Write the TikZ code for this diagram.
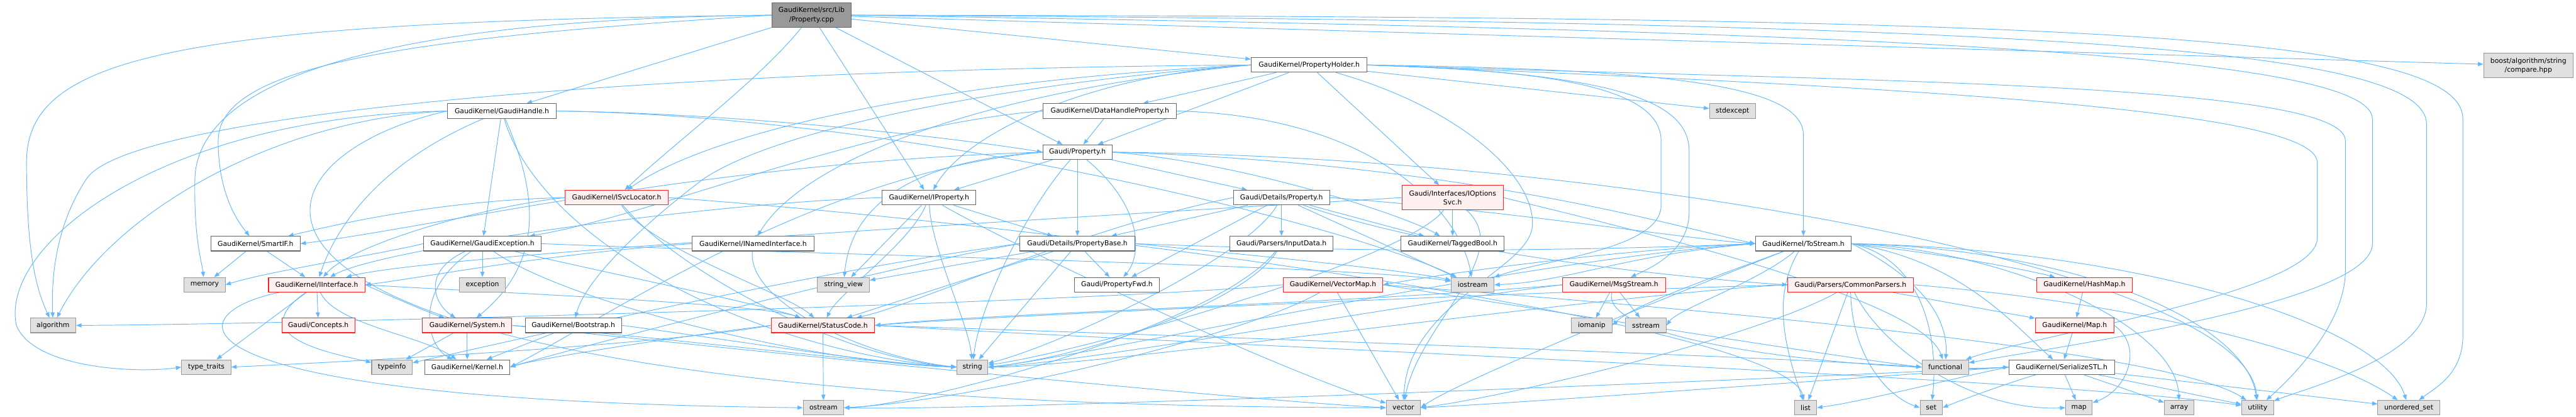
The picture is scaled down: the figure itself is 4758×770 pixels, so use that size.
\documentclass[tikz,border=0pt]{standalone}
\usepackage{fontspec}
\setsansfont{DejaVu Sans}
\usepackage{tikz}
\usetikzlibrary{arrows.meta, backgrounds}
\usepackage{xcolor}
\definecolor{edgeblue}{HTML}{63B8FF}
\definecolor{boxline}{HTML}{666666}
\definecolor{sysfill}{HTML}{E0E0E0}
\definecolor{sysline}{HTML}{999999}
\definecolor{truncfill}{HTML}{FFF0F0}
\definecolor{truncline}{HTML}{FF2020}
\definecolor{rootfill}{HTML}{999999}
\tikzstyle{hdr} = [rectangle, draw=boxline, fill=white, line width=1.2pt, minimum height=27pt,
    inner sep=0pt, align=center, text=black, font=\sffamily\fontsize{12.6}{16.5}\selectfont]
\tikzstyle{sys} = [hdr, draw=sysline, fill=sysfill]
\tikzstyle{trunc} = [hdr, draw=truncline, fill=truncfill]
\tikzstyle{root} = [hdr, draw=boxline, fill=rootfill, minimum height=45pt]
\tikzstyle{dep} = [draw=edgeblue, line width=1.1pt, -{Triangle[length=10pt,width=7.5pt]}]

\begin{document}
\begin{tikzpicture}[x=1pt, y=-1pt]
\useasboundingbox (0,0) rectangle (4758,770);
\node (cpp) [root, minimum width=146pt] at (1499,28) {GaudiKernel/src/Lib\\/Property.cpp};
\node (holder) [hdr, minimum width=214pt] at (2418,120) {GaudiKernel/PropertyHolder.h};
\node (boost) [sys, minimum width=165pt, minimum height=45pt] at (4670,121) {boost/algorithm/string\\/compare.hpp};
\node (handle) [hdr, minimum width=200pt] at (927,205) {GaudiKernel/GaudiHandle.h};
\node (dhprop) [hdr, minimum width=246pt] at (2050,205) {GaudiKernel/DataHandleProperty.h};
\node (stdexcept) [sys, minimum width=85pt] at (3200,205) {stdexcept};
\node (prop) [hdr, minimum width=128pt] at (1990,281) {Gaudi/Property.h};
\node (svcloc) [trunc, minimum width=190pt] at (1139,365) {GaudiKernel/ISvcLocator.h};
\node (iprop) [hdr, minimum width=173pt] at (1716,365) {GaudiKernel/IProperty.h};
\node (dprop) [hdr, minimum width=178pt] at (2367,365) {Gaudi/Details/Property.h};
\node (optsvc) [trunc, minimum width=187pt, minimum height=45pt] at (2683,365) {Gaudi/Interfaces/IOptions\\Svc.h};
\node (smartif) [hdr, minimum width=165pt] at (472,450) {GaudiKernel/SmartIF.h};
\node (gexc) [hdr, minimum width=217pt] at (891,450) {GaudiKernel/GaudiException.h};
\node (inamed) [hdr, minimum width=225pt] at (1391,450) {GaudiKernel/INamedInterface.h};
\node (pbase) [hdr, minimum width=212pt] at (1990,450) {Gaudi/Details/PropertyBase.h};
\node (input) [hdr, minimum width=190pt] at (2367,450) {Gaudi/Parsers/InputData.h};
\node (tagged) [hdr, minimum width=191pt] at (2683,450) {GaudiKernel/TaggedBool.h};
\node (tostream) [hdr, minimum width=177pt] at (3331,450) {GaudiKernel/ToStream.h};
\node (memory) [sys, minimum width=76pt] at (378,526) {memory};
\node (iface) [trunc, minimum width=178pt] at (585,526) {GaudiKernel/IInterface.h};
\node (exception) [sys, minimum width=85pt] at (891,526) {exception};
\node (strview) [sys, minimum width=96pt] at (1558,526) {string\_view};
\node (pfwd) [hdr, minimum width=156pt] at (2063,526) {Gaudi/PropertyFwd.h};
\node (vecmap) [trunc, minimum width=184pt] at (2462,526) {GaudiKernel/VectorMap.h};
\node (iostream) [sys, minimum width=79pt] at (2720,526) {iostream};
\node (msgstream) [trunc, minimum width=190pt] at (2981,526) {GaudiKernel/MsgStream.h};
\node (parsers) [trunc, minimum width=232pt] at (3418,526) {Gaudi/Parsers/CommonParsers.h};
\node (hashmap) [trunc, minimum width=177pt] at (3850,526) {GaudiKernel/HashMap.h};
\node (algorithm) [sys, minimum width=84pt] at (98,601) {algorithm};
\node (concepts) [trunc, minimum width=135pt] at (588,601) {Gaudi/Concepts.h};
\node (system) [trunc, minimum width=165pt] at (863,601) {GaudiKernel/System.h};
\node (bootstrap) [hdr, minimum width=178pt] at (1059,601) {GaudiKernel/Bootstrap.h};
\node (status) [trunc, minimum width=191pt] at (1520,601) {GaudiKernel/StatusCode.h};
\node (iomanip) [sys, minimum width=75pt] at (2940,601) {iomanip};
\node (sstream) [sys, minimum width=75pt] at (3040,601) {sstream};
\node (gmap) [trunc, minimum width=145pt] at (3832,601) {GaudiKernel/Map.h};
\node (typetraits) [sys, minimum width=91pt] at (381,678) {type\_traits};
\node (typeinfo) [sys, minimum width=75pt] at (724,678) {typeinfo};
\node (kernel) [hdr, minimum width=157pt] at (863,678) {GaudiKernel/Kernel.h};
\node (string) [sys, minimum width=57pt] at (1796,678) {string};
\node (functional) [sys, minimum width=86pt] at (3593,678) {functional};
\node (serial) [hdr, minimum width=195pt] at (3808,678) {GaudiKernel/SerializeSTL.h};
\node (ostream) [sys, minimum width=75pt] at (1521,753) {ostream};
\node (vector) [sys, minimum width=63pt] at (2592,753) {vector};
\node (list) [sys, minimum width=41pt] at (3335,753) {list};
\node (set) [sys, minimum width=41pt] at (3567,753) {set};
\node (map) [sys, minimum width=49pt] at (3840,753) {map};
\node (array) [sys, minimum width=55pt] at (4025,753) {array};
\node (utility) [sys, minimum width=59pt] at (4170,753) {utility};
\node (uset) [sys, minimum width=114pt] at (4449,753) {unordered\_set};

\begin{pgfonlayer}{background}
\draw[dep] (cpp) -- (handle);
\draw[dep] (cpp) -- (iprop);
\draw[dep] (cpp) -- (prop);
\draw[dep] (cpp) -- (holder);
\draw[dep] (cpp) .. controls (1400,150) and (1250,260) .. (svcloc);
\draw[dep] (cpp.west) .. controls (300,40) and (49,110) .. (49,300) .. controls (49,480) and (70,540) .. (algorithm);
\draw[dep] (cpp.west) .. controls (700,35) and (365,150) .. (360,330) .. controls (358,440) and (372,480) .. (memory);
\draw[dep] (cpp.west) .. controls (750,70) and (403,120) .. (403,260) .. controls (403,360) and (440,410) .. (smartif);
\draw[dep] (cpp) -- (boost);
\draw[dep] (cpp.east) .. controls (3800,30) and (4549,60) .. (4549,220) -- (4549,620) .. controls (4549,690) and (4500,715) .. (uset);
\draw[dep] (cpp.east) .. controls (3800,40) and (4482,90) .. (4482,230) -- (4482,560) .. controls (4482,660) and (4250,720) .. (utility);
\draw[dep] (cpp.east) .. controls (3300,55) and (4382,90) .. (4382,220) -- (4382,450) .. controls (4382,560) and (3800,640) .. (functional);

\draw[dep] (holder.west) .. controls (1200,128) and (240,210) .. (160,330) .. controls (100,420) and (95,520) .. (algorithm);
\draw[dep] (holder.west) .. controls (1700,150) and (1300,250) .. (svcloc);
\draw[dep] (holder.west) .. controls (1900,150) and (1450,230) .. (1300,330) .. controls (1180,420) and (1080,520) .. (bootstrap);
\draw[dep] (holder.west) .. controls (1800,170) and (1480,300) .. (inamed);
\draw[dep] (holder.west) .. controls (2000,140) and (1780,250) .. (iprop);
\draw[dep] (holder) -- (dhprop);
\draw[dep] (holder) -- (prop);
\draw[dep] (holder) -- (optsvc);
\draw[dep] (holder) .. controls (2700,200) and (2840,330) .. (2830,420) .. controls (2820,500) and (2600,560) .. (vector);
\draw[dep] (holder.east) .. controls (2900,130) and (3068,170) .. (3068,260) -- (3068,380) .. controls (3068,460) and (2850,480) .. (iostream);
\draw[dep] (holder.east) .. controls (3000,135) and (3120,190) .. (3120,280) -- (3120,390) .. controls (3120,460) and (3060,490) .. (msgstream);
\draw[dep] (holder) -- (stdexcept);
\draw[dep] (holder.east) .. controls (3100,128) and (3331,160) .. (3331,250) -- (tostream);
\draw[dep] (holder.east) .. controls (3500,160) and (4280,200) .. (4280,300) -- (4280,440) .. controls (4280,540) and (3750,620) .. (functional);
\draw[dep] (holder.east) .. controls (3400,150) and (4332,150) .. (4332,260) -- (4332,500) .. controls (4332,600) and (4230,700) .. (utility);

\draw[dep] (dhprop) -- (prop);
\draw[dep] (dhprop.east) .. controls (2550,215) and (2700,400) .. (iostream);
\draw[dep] (dhprop.west) .. controls (1600,230) and (1200,400) .. (gexc);

\draw[dep] (prop) -- (dprop);
\draw[dep] (prop) -- (pbase);
\draw[dep] (prop) .. controls (2110,380) and (2110,470) .. (pfwd);
\draw[dep] (prop) -- (iprop);
\draw[dep] (prop) .. controls (1900,380) and (1810,560) .. (string);
\draw[dep] (prop.west) .. controls (1650,300) and (1570,400) .. (strview);
\draw[dep] (prop.west) .. controls (1300,300) and (800,420) .. (smartif.east);
\draw[dep] (prop.west) .. controls (1500,320) and (1100,600) .. (kernel.east);
\draw[dep] (prop.east) .. controls (2300,300) and (2600,400) .. (tagged);
\draw[dep] (prop.east) .. controls (2700,300) and (3100,420) .. (tostream.west);
\draw[dep] (prop.east) .. controls (3000,290) and (4150,500) .. (utility);

\draw[dep] (svcloc.west) .. controls (900,380) and (650,450) .. (iface);
\draw[dep] (svcloc.west) .. controls (800,370) and (600,420) .. (smartif);
\draw[dep] (svcloc) .. controls (1200,460) and (1450,540) .. (status);
\draw[dep] (svcloc) .. controls (1250,500) and (1550,660) .. (string.west);
\draw[dep] (svcloc.east) .. controls (2000,420) and (3300,600) .. (list);

\draw[dep] (iprop.west) .. controls (1300,375) and (700,460) .. (iface);
\draw[dep] (iprop) .. controls (1680,450) and (1550,540) .. (status);
\draw[dep] (iprop) -- (pbase);
\draw[dep] (iprop) .. controls (1720,460) and (1790,600) .. (string);
\draw[dep] (iprop) -- (strview);
\draw[dep] (iprop) .. controls (1900,470) and (2400,700) .. (vector);

\draw[dep] (dprop) -- (pbase);
\draw[dep] (dprop) -- (pfwd);
\draw[dep] (dprop) -- (input);
\draw[dep] (dprop) .. controls (2300,480) and (1950,640) .. (string);
\draw[dep] (dprop) -- (tagged);
\draw[dep] (dprop) -- (iostream);
\draw[dep] (dprop.east) .. controls (2800,390) and (3100,440) .. (tostream.west);
\draw[dep] (dprop) .. controls (2700,480) and (3200,520) .. (parsers.west);
\draw[dep] (dprop.west) .. controls (2000,420) and (1700,560) .. (status);

\draw[dep] (optsvc) -- (tagged);
\draw[dep] (optsvc.west) .. controls (2000,400) and (800,470) .. (iface);
\draw[dep] (optsvc) .. controls (2600,480) and (2000,650) .. (string);
\draw[dep] (optsvc) .. controls (2800,470) and (2620,600) .. (vector);
\draw[dep] (optsvc.east) .. controls (3000,420) and (3550,550) .. (functional);

\draw[dep] (smartif) -- (memory);
\draw[dep] (smartif) -- (iface);

\draw[dep] (gexc) -- (exception);
\draw[dep] (gexc) .. controls (1100,500) and (1400,560) .. (status);
\draw[dep] (gexc) .. controls (760,540) and (790,640) .. (kernel);
\draw[dep] (gexc) .. controls (780,500) and (800,560) .. (system);
\draw[dep] (gexc.east) .. controls (1500,470) and (2500,490) .. (iostream);
\draw[dep] (gexc) .. controls (1050,560) and (1500,670) .. (string.west);
\draw[dep] (gexc.west) .. controls (700,470) and (500,500) .. (memory.east);

\draw[dep] (inamed.west) .. controls (1000,470) and (800,510) .. (iface.east);
\draw[dep] (inamed) .. controls (1380,560) and (1600,660) .. (string.west);

\draw[dep] (pbase) -- (pfwd);
\draw[dep] (pbase) -- (string);
\draw[dep] (pbase) -- (strview);
\draw[dep] (pbase) -- (status);
\draw[dep] (pbase.east) .. controls (2600,470) and (3000,460) .. (tostream.west);
\draw[dep] (pbase.west) .. controls (1500,500) and (900,640) .. (typeinfo);
\draw[dep] (pbase.west) .. controls (1600,500) and (1000,660) .. (kernel.east);
\draw[dep] (pbase.east) .. controls (2400,480) and (2600,500) .. (iostream);

\draw[dep] (input) .. controls (2300,560) and (2000,660) .. (string.east);
\draw[dep] (input) .. controls (2250,600) and (1700,750) .. (ostream.east);

\draw[dep] (tostream.east) .. controls (3600,470) and (3750,500) .. (hashmap);
\draw[dep] (tostream.east) .. controls (3620,480) and (3720,600) .. (serial);
\draw[dep] (tostream.west) .. controls (3000,460) and (2700,500) .. (vecmap.east);
\draw[dep] (tostream) .. controls (3200,500) and (3020,560) .. (iomanip.east);
\draw[dep] (tostream) .. controls (3250,520) and (3100,570) .. (sstream.east);
\draw[dep] (tostream.west) .. controls (3000,470) and (2900,520) .. (iostream.east);
\draw[dep] (tostream) .. controls (3270,550) and (3300,650) .. (list);
\draw[dep] (tostream.east) .. controls (3560,480) and (3580,640) .. (set);
\draw[dep] (tostream.east) .. controls (3700,460) and (4020,600) .. (array);
\draw[dep] (tostream.west) .. controls (2800,480) and (2000,660) .. (string.east);
\draw[dep] (tostream) .. controls (3100,540) and (2700,700) .. (vector.east);
\draw[dep] (tostream.east) .. controls (3850,460) and (4150,600) .. (utility);
\draw[dep] (tostream.east) .. controls (3950,460) and (4400,600) .. (uset);
\draw[dep] (tostream.east) .. controls (3500,490) and (3600,560) .. (functional);

\draw[dep] (parsers) -- (list);
\draw[dep] (parsers) .. controls (3420,650) and (3480,730) .. (set.west);
\draw[dep] (parsers) .. controls (3480,650) and (3650,760) .. (map.west);
\draw[dep] (parsers) -- (gmap);
\draw[dep] (parsers.west) .. controls (3000,540) and (2000,680) .. (string.east);
\draw[dep] (parsers) .. controls (3250,620) and (2800,730) .. (vector.east);
\draw[dep] (parsers.west) .. controls (2800,540) and (1800,585) .. (status.east);
\draw[dep] (parsers.east) .. controls (3950,560) and (4300,650) .. (uset);

\draw[dep] (hashmap) -- (gmap);
\draw[dep] (gmap) -- (serial);
\draw[dep] (gmap.east) .. controls (3960,640) and (3930,720) .. (map);

\draw[dep] (serial.west) .. controls (3600,700) and (3450,740) .. (list.east);
\draw[dep] (serial) .. controls (3700,710) and (3620,740) .. (set.east);
\draw[dep] (serial) -- (map);
\draw[dep] (serial) -- (array);
\draw[dep] (serial) -- (utility);
\draw[dep] (serial) -- (uset);
\draw[dep] (serial.west) .. controls (3400,700) and (2800,745) .. (vector.east);
\draw[dep] (serial.west) .. controls (3300,700) and (1800,760) .. (ostream.east);

\draw[dep] (vecmap) -- (vector);
\draw[dep] (vecmap.west) .. controls (2000,560) and (500,600) .. (algorithm.east);
\draw[dep] (vecmap.east) .. controls (2900,580) and (3400,660) .. (functional.west);
\draw[dep] (vecmap.east) .. controls (3000,560) and (4000,640) .. (utility);
\draw[dep] (vecmap) .. controls (2300,620) and (1800,740) .. (ostream.east);

\draw[dep] (msgstream) -- (iomanip);
\draw[dep] (msgstream) -- (sstream);
\draw[dep] (msgstream.west) .. controls (2600,560) and (2000,670) .. (string.east);
\draw[dep] (msgstream) .. controls (2950,640) and (3500,690) .. (serial.west);
\draw[dep] (msgstream.west) .. controls (2500,560) and (1800,580) .. (status.east);

\draw[dep] (iface) -- (concepts);
\draw[dep] (iface) .. controls (620,600) and (780,620) .. (kernel);
\draw[dep] (iface.east) .. controls (900,540) and (1400,560) .. (status);
\draw[dep] (iface.east) .. controls (750,560) and (800,580) .. (system);
\draw[dep] (iface) -- (typetraits);
\draw[dep] (iface) .. controls (450,620) and (600,650) .. (typeinfo);
\draw[dep] (iface) .. controls (320,580) and (280,740) .. (ostream.west);

\draw[dep] (system) -- (kernel);
\draw[dep] (system) -- (typeinfo);
\draw[dep] (system.east) .. controls (1200,620) and (1600,670) .. (string.west);
\draw[dep] (system.east) .. controls (1300,640) and (2300,740) .. (vector.west);
\draw[dep] (bootstrap) -- (kernel);
\draw[dep] (bootstrap.east) .. controls (1300,620) and (1600,670) .. (string.west);
\draw[dep] (status) -- (ostream);
\draw[dep] (status.west) .. controls (1300,615) and (1000,660) .. (kernel.east);
\draw[dep] (status.west) .. controls (1200,640) and (600,670) .. (typetraits.east);
\draw[dep] (status.east) .. controls (2200,620) and (3300,660) .. (functional.west);
\draw[dep] (status.east) .. controls (2300,640) and (3800,700) .. (utility);

\draw[dep] (handle) -- (gexc);
\draw[dep] (handle) .. controls (990,350) and (1010,480) .. (system);
\draw[dep] (handle) .. controls (700,300) and (620,420) .. (iface);
\draw[dep] (handle.west) .. controls (300,215) and (0,450) .. (30,600) .. controls (60,680) and (250,690) .. (typetraits.west);
\draw[dep] (handle.west) .. controls (500,220) and (200,400) .. (algorithm);
\draw[dep] (handle.east) .. controls (1400,210) and (1800,260) .. (prop.west);
\draw[dep] (handle.east) .. controls (1700,215) and (2500,420) .. (iostream);
\draw[dep] (handle) .. controls (1000,450) and (1400,650) .. (string.west);
\draw[dep] (handle.west) .. controls (400,300) and (250,750) .. (vector.west);
\end{pgfonlayer}
\end{tikzpicture}
\end{document}
